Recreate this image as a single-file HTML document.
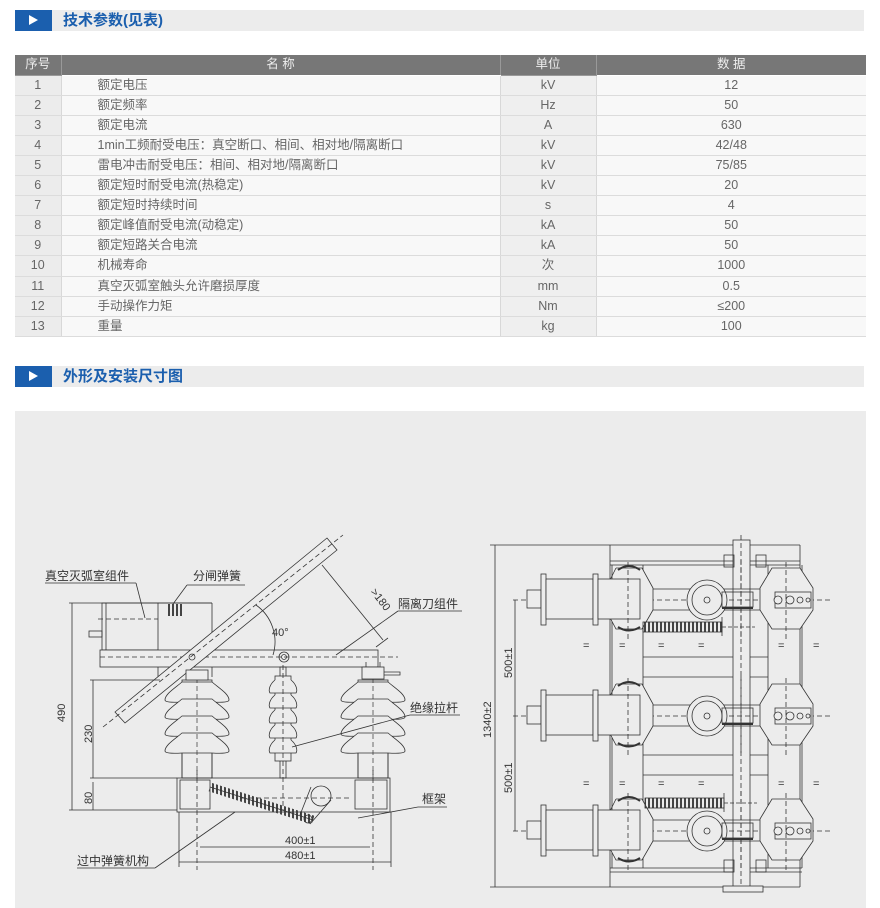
<!DOCTYPE html>
<html><head><meta charset="utf-8"><style>
*{margin:0;padding:0;box-sizing:border-box}
body{width:880px;height:908px;background:#fff;position:relative;overflow:hidden;font-family:"Liberation Sans","Noto Sans CJK SC",sans-serif}
.hd{position:absolute;left:15px;width:849px;height:21px;background:#ececec}
.hd .b{position:absolute;left:0;top:0;width:37px;height:21px;background:#1b5fae}
.hd .b:after{content:"";position:absolute;left:14px;top:5px;border-left:9px solid #fff;border-top:5.5px solid transparent;border-bottom:5.5px solid transparent}
.hd .t{position:absolute;left:48px;top:0;line-height:21px;font-size:15px;font-weight:bold;color:#1b5fae}
table{position:absolute;left:15px;top:55px;width:851px;border-collapse:collapse;font-size:12.5px;color:#666}
td{height:20.1px;padding:0;border-bottom:1px solid #dcdcdc;text-align:center;line-height:19px}
tr.h td{background:#777;color:#eee;border-bottom:1px solid #fff}
td.a{background:#ececec;width:46px;border-right:1px solid #d8d8d8}
td.n{background:#f8f8f8;text-align:left;padding-left:36px;width:439px}
td.u{background:#efefef;width:96px;border-left:1px solid #d8d8d8;border-right:1px solid #d8d8d8}
td.v{background:#f8f8f8}
tr.h td.n{text-align:center;padding-left:0;background:#777}
tr.h td.a,tr.h td.u{background:#777;border-color:#999}
.panel{position:absolute;left:15px;top:411px;width:851px;height:497px;background:#ececec}
svg{position:absolute;left:0;top:0}
svg text{font-family:"Liberation Sans","Noto Sans CJK SC",sans-serif;fill:#333}
</style></head><body>
<div class="hd" style="top:10px"><div class="b"></div><div class="t">技术参数(见表)</div></div>
<table>
<tr class="h"><td class="a">序号</td><td class="n">名 称</td><td class="u">单位</td><td class="v">数 据</td></tr>
<tr><td class="a">1</td><td class="n">额定电压</td><td class="u">kV</td><td class="v">12</td></tr>
<tr><td class="a">2</td><td class="n">额定频率</td><td class="u">Hz</td><td class="v">50</td></tr>
<tr><td class="a">3</td><td class="n">额定电流</td><td class="u">A</td><td class="v">630</td></tr>
<tr><td class="a">4</td><td class="n">1min工频耐受电压：真空断口、相间、相对地/隔离断口</td><td class="u">kV</td><td class="v">42/48</td></tr>
<tr><td class="a">5</td><td class="n">雷电冲击耐受电压：相间、相对地/隔离断口</td><td class="u">kV</td><td class="v">75/85</td></tr>
<tr><td class="a">6</td><td class="n">额定短时耐受电流(热稳定)</td><td class="u">kV</td><td class="v">20</td></tr>
<tr><td class="a">7</td><td class="n">额定短时持续时间</td><td class="u">s</td><td class="v">4</td></tr>
<tr><td class="a">8</td><td class="n">额定峰值耐受电流(动稳定)</td><td class="u">kA</td><td class="v">50</td></tr>
<tr><td class="a">9</td><td class="n">额定短路关合电流</td><td class="u">kA</td><td class="v">50</td></tr>
<tr><td class="a">10</td><td class="n">机械寿命</td><td class="u">次</td><td class="v">1000</td></tr>
<tr><td class="a">11</td><td class="n">真空灭弧室触头允许磨损厚度</td><td class="u">mm</td><td class="v">0.5</td></tr>
<tr><td class="a">12</td><td class="n">手动操作力矩</td><td class="u">Nm</td><td class="v">≤200</td></tr>
<tr><td class="a">13</td><td class="n">重量</td><td class="u">kg</td><td class="v">100</td></tr>
</table>
<div class="hd" style="top:366px"><div class="b"></div><div class="t">外形及安装尺寸图</div></div>
<div class="panel"></div>
<svg width="880" height="908" viewBox="0 0 880 908">
<defs>
<pattern id="sp" width="4" height="12" patternUnits="userSpaceOnUse"><rect x="0" y="0" width="2" height="12" fill="#444"/></pattern>
<path id="shed" d="M-15,0 C-22,6 -32,12 -32,18 Q-32,21 -15,20 L15,20 Q32,21 32,18 C32,12 22,6 15,0 Z" fill="#ececec" stroke="#333" stroke-width="0.8"/>
<g id="ins">
<rect x="-15" y="0" width="30" height="98" fill="#ececec" stroke="#333" stroke-width="0.8"/>
<use href="#shed" y="2"/>
<use href="#shed" y="19"/>
<use href="#shed" y="36"/>
<use href="#shed" y="53"/>
<line x1="-15" y1="73" x2="-15" y2="98" stroke="#333" stroke-width="0.8"/>
<line x1="15" y1="73" x2="15" y2="98" stroke="#333" stroke-width="0.8"/>
<line x1="0" y1="-10" x2="0" y2="100" stroke="#333" stroke-width="0.7" stroke-dasharray="5,3"/>
</g>
<g id="ph" stroke="#333" stroke-width="0.8" fill="#ececec">
<line x1="513" y1="0" x2="830" y2="0" stroke-dasharray="5,3"/>
<line x1="640" y1="-11" x2="795" y2="-11"/><line x1="640" y1="10" x2="795" y2="10"/>
<rect x="527" y="-10" width="14" height="18"/>
<rect x="541" y="-26" width="5" height="51"/>
<rect x="546" y="-21" width="47" height="40"/>
<rect x="593" y="-26" width="5" height="51"/>
<path d="M616,-32 L642,-32 L653,-12 L653,10 L642,29 L616,29 L607,12 M607,-14 L616,-32"/>
<rect x="598" y="-21" width="42" height="40" fill="#ececec"/>
<path d="M618,-30 Q629,-38 640,-30 M618,27 Q629,34 640,27" stroke-width="2" fill="none"/>
<circle cx="707" cy="0" r="20"/><circle cx="707" cy="0" r="15"/><circle cx="707" cy="0" r="3"/>
<rect x="722" y="-8" width="31" height="15" fill="none"/><line x1="722" y1="8" x2="753" y2="8" stroke-width="2"/>
<path d="M772,-32 L800,-32 L813,-12 L813,10 L800,29 L772,29 L760,10 L760,-12 Z"/>
<rect x="775" y="-8" width="36" height="16"/>
<circle cx="778" cy="0" r="4"/><circle cx="790" cy="0" r="4"/><circle cx="800" cy="0" r="3"/><circle cx="808" cy="0" r="2"/>
<line x1="628" y1="-38" x2="628" y2="40" stroke-dasharray="5,3"/>
<line x1="786" y1="-38" x2="786" y2="40" stroke-dasharray="5,3"/>
<line x1="741" y1="-40" x2="741" y2="40" stroke-dasharray="5,3"/>
</g>
</defs>
<!-- LEFT DIAGRAM -->
<g stroke="#333" stroke-width="0.8" fill="none">
<line x1="69" y1="603" x2="212" y2="603"/>
<rect x="102" y="603" width="56" height="47"/>
<line x1="106" y1="603" x2="106" y2="650"/>
<rect x="89" y="631" width="13" height="6"/>
<line x1="158" y1="603" x2="212" y2="603"/><line x1="212" y1="603" x2="212" y2="677"/><line x1="158" y1="650" x2="158" y2="677"/>
<line x1="98" y1="619" x2="158" y2="619" stroke-dasharray="5,3"/>
<rect x="100" y="650" width="278" height="17" fill="#ececec"/>
<line x1="100" y1="657" x2="398" y2="657" stroke-dasharray="5,3"/>
<polygon points="115,712 327,538 337,550 125,723" fill="#ececec"/>
<line x1="103" y1="727" x2="343" y2="535" stroke-dasharray="5,3"/>
<circle cx="192" cy="657" r="3"/>
<circle cx="284" cy="657" r="5"/><circle cx="284" cy="657" r="2.5"/>
<path d="M256,605 A45,45 0 0 1 273,655"/>
<line x1="322" y1="565" x2="383" y2="640"/>
<line x1="376" y1="647" x2="388" y2="638"/>
<rect x="167" y="604" width="16" height="12" fill="url(#sp)" stroke="none"/>
<line x1="173" y1="604" x2="187" y2="585"/><line x1="187" y1="585" x2="245" y2="585"/>
<use href="#ins" x="197" y="680"/>
<use href="#ins" x="373" y="680"/>
<rect x="186" y="670" width="22" height="10" fill="#ececec"/>
<rect x="362" y="667" width="22" height="12" fill="#ececec"/>
<path d="M384,672 L400,672 L400,675 L384,675"/>
<line x1="366" y1="667" x2="366" y2="662"/><line x1="380" y1="667" x2="380" y2="662"/>
<rect x="280" y="667" width="6" height="111"/>
<rect x="275" y="676" width="16" height="85" fill="#ececec"/>
<path d="M275,680 C270,684 268,690 270,693 L296,693 C298,690 296,684 291,680 M275,695 C270,699 268,705 270,708 L296,708 C298,705 296,699 291,695 M275,710 C270,714 268,720 270,723 L296,723 C298,720 296,714 291,710 M275,725 C270,729 268,735 270,738 L296,738 C298,735 296,729 291,725 M275,740 C270,744 268,750 270,753 L296,753 C298,750 296,744 291,740" fill="#ececec"/>
<line x1="283" y1="665" x2="283" y2="810" stroke-dasharray="5,3"/>
<rect x="177" y="778" width="213" height="34"/>
<rect x="180" y="780" width="30" height="29"/><rect x="355" y="780" width="32" height="29"/>
<line x1="197" y1="770" x2="197" y2="870" stroke-dasharray="5,3"/>
<line x1="373" y1="770" x2="373" y2="870" stroke-dasharray="5,3"/>
<line x1="210" y1="787" x2="313" y2="820" stroke-width="9" stroke="url(#sp)"/>
<line x1="210" y1="787" x2="313" y2="820"/>
<circle cx="321" cy="796" r="10"/><circle cx="308" cy="819" r="4"/>
<line x1="311" y1="787" x2="300" y2="815"/><line x1="331" y1="800" x2="310" y2="824"/>
<line x1="240" y1="798" x2="350" y2="798" stroke-dasharray="5,3"/>
<line x1="72" y1="603" x2="72" y2="810"/><line x1="69" y1="810" x2="177" y2="810"/>
<line x1="93" y1="680" x2="93" y2="778"/><line x1="90" y1="680" x2="160" y2="680"/>
<line x1="90" y1="778" x2="177" y2="778"/><line x1="93" y1="782" x2="93" y2="810"/>
<line x1="179" y1="812" x2="179" y2="867"/><line x1="391" y1="812" x2="391" y2="867"/>
<line x1="179" y1="862" x2="391" y2="862"/><line x1="200" y1="847" x2="370" y2="847"/>
<line x1="45" y1="583" x2="136" y2="583"/><line x1="136" y1="583" x2="145" y2="618"/>
<line x1="398" y1="611" x2="462" y2="611"/><line x1="398" y1="611" x2="336" y2="655"/>
<line x1="410" y1="715" x2="460" y2="715"/><line x1="410" y1="715" x2="292" y2="747"/>
<line x1="418" y1="807" x2="447" y2="807"/><line x1="418" y1="807" x2="358" y2="818"/>
<line x1="77" y1="868" x2="155" y2="868"/><line x1="155" y1="868" x2="235" y2="812"/>
</g>
<g font-size="12">
<text x="45" y="580">真空灭弧室组件</text>
<text x="193" y="580">分闸弹簧</text>
<text x="398" y="608">隔离刀组件</text>
<text x="410" y="712">绝缘拉杆</text>
<text x="422" y="803">框架</text>
<text x="77" y="865">过中弹簧机构</text>
<text x="272" y="636" font-size="11">40°</text>
<text x="285" y="844" font-size="11">400±1</text>
<text x="285" y="859" font-size="11">480±1</text>
<text transform="translate(370,592) rotate(52)" font-size="11">&gt;180</text>
<text transform="translate(65,722) rotate(-90)" font-size="11">490</text>
<text transform="translate(92,743) rotate(-90)" font-size="11">230</text>
<text transform="translate(92,804) rotate(-90)" font-size="11">80</text>
</g>
<!-- RIGHT DIAGRAM -->
<g stroke="#333" stroke-width="0.8" fill="none">
<line x1="490" y1="545" x2="800" y2="545"/><line x1="490" y1="887" x2="800" y2="887"/>
<line x1="495" y1="545" x2="495" y2="887"/>
<line x1="610" y1="545" x2="610" y2="887"/><line x1="800" y1="545" x2="800" y2="887"/>
<line x1="610" y1="561" x2="800" y2="561"/><line x1="610" y1="565" x2="800" y2="565"/>
<line x1="610" y1="868" x2="802" y2="868"/><line x1="610" y1="872" x2="802" y2="872"/>
<line x1="612" y1="565" x2="612" y2="868"/><line x1="643" y1="565" x2="643" y2="868"/>
<line x1="768" y1="565" x2="768" y2="868"/><line x1="802" y1="565" x2="802" y2="868"/>
<line x1="643" y1="657" x2="768" y2="657"/><line x1="643" y1="677" x2="768" y2="677"/>
<line x1="643" y1="755" x2="768" y2="755"/><line x1="643" y1="775" x2="768" y2="775"/>
<rect x="733" y="540" width="17" height="348" fill="#ececec"/>
<line x1="741" y1="535" x2="741" y2="895" stroke-dasharray="5,3"/>
<rect x="723" y="886" width="40" height="6" fill="#ececec"/>
<rect x="724" y="555" width="10" height="12"/><rect x="756" y="555" width="10" height="12"/>
<rect x="724" y="860" width="10" height="12"/><rect x="756" y="860" width="10" height="12"/>
<line x1="515" y1="600" x2="515" y2="831"/>
</g>
<use href="#ph" x="0" y="600"/>
<use href="#ph" x="0" y="716"/>
<use href="#ph" x="0" y="831"/>
<g stroke="#333" stroke-width="0.8">
<rect x="643" y="622" width="79" height="10" fill="url(#sp)"/>
<line x1="722" y1="617" x2="722" y2="636"/><line x1="722" y1="627" x2="755" y2="627" stroke-dasharray="4,2"/>
<rect x="645" y="798" width="79" height="10" fill="url(#sp)"/>
<line x1="724" y1="793" x2="724" y2="812"/><line x1="724" y1="803" x2="757" y2="803" stroke-dasharray="4,2"/>
</g>
<g font-size="11" fill="#333">
<text x="583" y="649">=</text><text x="619" y="649">=</text><text x="658" y="649">=</text><text x="698" y="649">=</text><text x="778" y="649">=</text><text x="813" y="649">=</text>
<text x="583" y="787">=</text><text x="619" y="787">=</text><text x="658" y="787">=</text><text x="698" y="787">=</text><text x="778" y="787">=</text><text x="813" y="787">=</text>
<text transform="translate(491,738) rotate(-90)">1340±2</text>
<text transform="translate(512,678) rotate(-90)">500±1</text>
<text transform="translate(512,793) rotate(-90)">500±1</text>
</g>
</svg>
</body></html>
